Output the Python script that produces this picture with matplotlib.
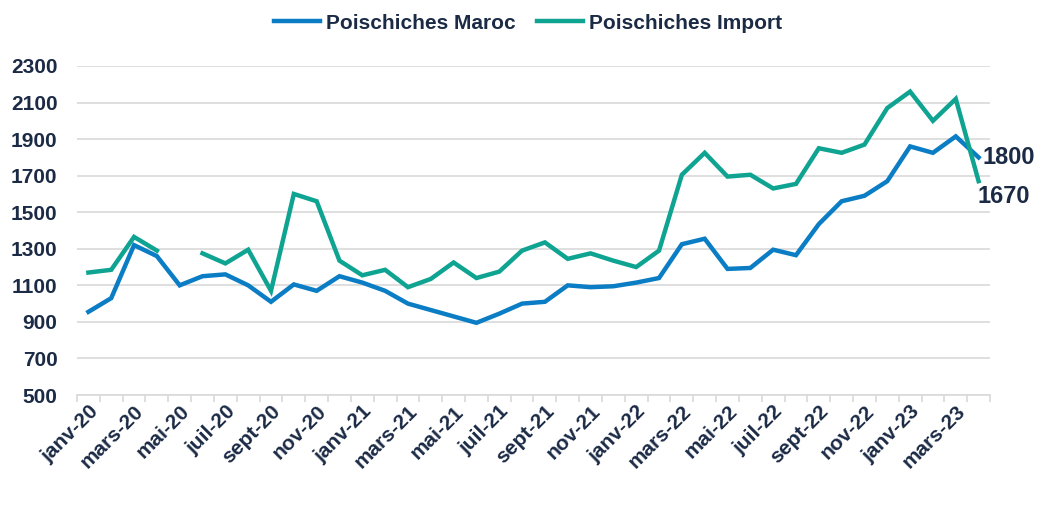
import numpy as np
import matplotlib
matplotlib.use("Agg")
import matplotlib.pyplot as plt
from matplotlib.ticker import FixedLocator

plt.rcParams['font.family'] = ['Liberation Sans', 'DejaVu Sans']

months = ["janv", "févr", "mars", "avr", "mai", "juin", "juil", "août", "sept", "oct", "nov", "déc"]
labels = [f"{m}-{y}" for y in ["20", "21", "22", "23"] for m in months][:40]

maroc = [955, 1030, 1320, 1260, 1100, 1150, 1160, 1100, 1010, 1105,
         1070, 1150, 1115, 1070, 1000, 965, 930, 895, 945, 1000,
         1010, 1100, 1090, 1095, 1115, 1140, 1325, 1355, 1190, 1195,
         1295, 1265, 1435, 1560, 1590, 1670, 1860, 1825, 1915, 1800]
imports = [1170, 1185, 1365, 1290, np.nan, 1275, 1220, 1295, 1070, 1600,
           1560, 1235, 1155, 1185, 1090, 1135, 1225, 1140, 1175, 1290,
           1335, 1245, 1275, 1235, 1200, 1290, 1705, 1825, 1695, 1705,
           1630, 1655, 1850, 1825, 1870, 2070, 2160, 2000, 2120, 1670]

BLUE = "#0a7dc4"
GREEN = "#0fa392"
TEXT = "#1b2a45"

fig = plt.figure(figsize=(10.56, 5.08), dpi=100)
ax = fig.add_axes([0.0729, 0.2224, 0.8646, 0.6477])

x = np.arange(len(labels))
ax.plot(x, maroc, color=BLUE, lw=3.2, label="Poischiches Maroc", solid_joinstyle="miter")
ax.plot(x, imports, color=GREEN, lw=3.2, label="Poischiches Import", solid_joinstyle="miter")

ax.set_xlim(-0.5, len(labels) - 0.5)
ax.set_ylim(500, 2300)
ax.set_yticks(range(500, 2301, 200))
ax.grid(axis="y", color="#d9d9d9", lw=1.2)
ax.set_axisbelow(True)

ax.set_xticks(x[::2])
ax.set_xticklabels(labels[::2], rotation=45, ha="right", rotation_mode="anchor",
                   fontsize=15, fontweight="bold", color=TEXT)
ax.xaxis.set_minor_locator(FixedLocator(np.arange(-0.5, len(labels), 1)))
ax.tick_params(axis="x", which="major", length=0, pad=5)
ax.tick_params(axis="x", which="minor", length=5, color="#d9d9d9", width=1.2)
ax.tick_params(axis="y", length=0, pad=14)
for t in ax.get_yticklabels():
    t.set_fontsize(15)
    t.set_fontweight("bold")
    t.set_color(TEXT)

for s in ["top", "right", "left"]:
    ax.spines[s].set_visible(False)
ax.spines["bottom"].set_color("#d9d9d9")
ax.spines["bottom"].set_linewidth(1.2)

ax.annotate(f"{maroc[-1]}", (x[-1], maroc[-1]), xytext=(3, 0), textcoords="offset points",
            ha="left", va="center", fontsize=17, fontweight="bold", color=TEXT)
ax.annotate(f"{imports[-1]}", (x[-1], imports[-1]), xytext=(-1, -11), textcoords="offset points",
            ha="left", va="center", fontsize=17, fontweight="bold", color=TEXT)

leg = fig.legend(loc="upper center", bbox_to_anchor=(0.5, 1.01), ncol=2, frameon=False,
                 prop={"size": 15, "weight": "bold"}, handlelength=2.2, columnspacing=1.0,
                 handletextpad=0.3)
for t in leg.get_texts():
    t.set_color(TEXT)

fig.savefig("out.png", dpi=100)
